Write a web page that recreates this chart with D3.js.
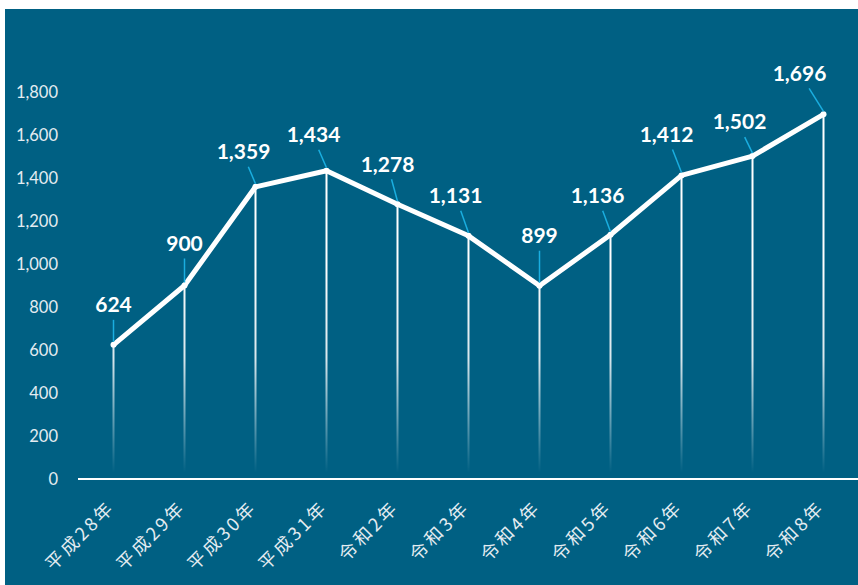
<!DOCTYPE html>
<html>
<head>
<meta charset="utf-8">
<script src="https://cdn.jsdelivr.net/npm/d3@7"></script>
<style>
  body { margin: 0; background: #fff; }
  svg { display: block; }
</style>
</head>
<body>
<div id="chart"></div>
<script>
const categories = ['平成28年', '平成29年', '平成30年', '平成31年', '令和2年', '令和3年', '令和4年', '令和5年', '令和6年', '令和7年', '令和8年']
const values = [624, 900, 1359, 1434, 1278, 1131, 899, 1136, 1412, 1502, 1696]
const yTicks = [0, 200, 400, 600, 800, 1000, 1200, 1400, 1600, 1800]
// label offset from its point (layout only)
const labelDx = [0, 0, -12, -13, -10, -13, 0, -13, -15, -13, -24]
const labelDy = [-40, -42, -35, -36, -40, -40, -50, -39, -41, -34, -41]

const W = 858, H = 585
const bg = '#006083'
const m = { left: 78, top: 92, bottom: 479 }

const svg = d3.select('#chart').append('svg').attr('width', W).attr('height', H)

svg.append('rect')
  .attr('x', 5).attr('y', 9).attr('width', W - 5).attr('height', H - 9)
  .attr('fill', bg)

const x = d3.scaleBand().domain(categories).range([m.left, m.left + 71 * categories.length])
const y = d3.scaleLinear().domain([0, 1800]).range([m.bottom, m.top])
const cx = d => x(d) + x.bandwidth() / 2

const defs = svg.append('defs')
const grad = defs.append('linearGradient')
  .attr('id', 'drop').attr('gradientUnits', 'userSpaceOnUse')
  .attr('x1', 0).attr('x2', 0).attr('y1', y(1000)).attr('y2', y(30))
grad.append('stop').attr('offset', 0).attr('stop-color', '#fff').attr('stop-opacity', 1)
grad.append('stop').attr('offset', 0.45).attr('stop-color', '#fff').attr('stop-opacity', 0.85)
grad.append('stop').attr('offset', 1).attr('stop-color', '#fff').attr('stop-opacity', 0)

// y axis labels
svg.append('g').selectAll('text').data(yTicks).join('text')
  .attr('x', 58).attr('y', d => y(d)).attr('dy', '0.35em')
  .attr('text-anchor', 'end')
  .attr('fill', '#e4ecf1')
  .style('font', '16.5px Lato, "Liberation Sans", sans-serif')
  .text(d => d3.format(',')(d))

// drop lines
svg.append('g').selectAll('line').data(values).join('line')
  .attr('x1', (d, i) => cx(categories[i])).attr('x2', (d, i) => cx(categories[i]))
  .attr('y1', d => y(d)).attr('y2', y(0))
  .attr('stroke', 'url(#drop)').attr('stroke-width', 2)

// x axis line
svg.append('line')
  .attr('x1', m.left).attr('x2', W).attr('y1', y(0)).attr('y2', y(0))
  .attr('stroke', '#fff').attr('stroke-width', 2)

// main line
const line = d3.line().x((d, i) => cx(categories[i])).y(d => y(d))
svg.append('path').datum(values)
  .attr('d', line).attr('fill', 'none')
  .attr('stroke', '#fff').attr('stroke-width', 5).attr('stroke-linejoin', 'round')

svg.append('g').selectAll('circle').data(values).join('circle')
  .attr('cx', (d, i) => cx(categories[i])).attr('cy', d => y(d)).attr('r', 3)
  .attr('fill', '#fff')

// leader lines + labels
const lab = svg.append('g')
lab.selectAll('line').data(values).join('line')
  .attr('x1', (d, i) => cx(categories[i])).attr('y1', d => y(d) - 3)
  .attr('x2', (d, i) => cx(categories[i]) + labelDx[i] * 0.6)
  .attr('y2', (d, i) => y(d) + labelDy[i] + 15)
  .attr('stroke', '#1aaee0').attr('stroke-width', 1.5)

lab.selectAll('text').data(values).join('text')
  .attr('x', (d, i) => cx(categories[i]) + labelDx[i])
  .attr('y', (d, i) => y(d) + labelDy[i])
  .attr('text-anchor', 'middle').attr('dy', '0.35em')
  .attr('fill', '#fff')
  .style('font', 'bold 21px Lato, "Liberation Sans", sans-serif')
  .text(d => d3.format(',')(d))

// x labels
svg.append('g').selectAll('text').data(categories).join('text')
  .attr('transform', d => `translate(${cx(d) - 2},${y(0) + 25}) rotate(-45)`)
  .attr('text-anchor', 'end').attr('dy', '0.35em')
  .attr('fill', '#e4ecf1')
  .attr('letter-spacing', 3)
  .style('font', '18px "Noto Sans CJK JP", sans-serif')
  .text(d => d)
</script>
</body>
</html>
